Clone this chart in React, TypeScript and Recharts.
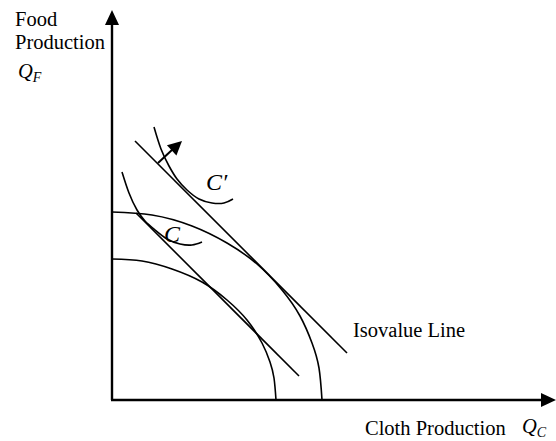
import React from 'react';
import { LineChart, Line, XAxis, YAxis, ReferenceLine, ReferenceDot } from 'recharts';

// production possibility frontiers (cloth on x, food on y)
const innerPPF = [
  { x: 0, y: 141 }, { x: 30, y: 139 }, { x: 60, y: 131 }, { x: 90, y: 118 }, { x: 115, y: 100 },
  { x: 135, y: 80 }, { x: 150, y: 57 }, { x: 158, y: 38 }, { x: 162, y: 22 }, { x: 164, y: 0 },
];
const outerPPF = [
  { x: 0, y: 188 }, { x: 40, y: 185 }, { x: 80, y: 174 }, { x: 115, y: 157 }, { x: 145, y: 136 },
  { x: 170, y: 110 }, { x: 188, y: 84 }, { x: 200, y: 57 }, { x: 207, y: 32 }, { x: 210, y: 0 },
];

// isovalue lines
const isoInner = [{ x: 24, y: 187 }, { x: 187, y: 24 }];
const isoOuter = [{ x: 23, y: 259 }, { x: 235, y: 47 }];

// indifference curves through C and C'
const curveC = [
  { x: 10, y: 228 }, { x: 17, y: 207 }, { x: 25, y: 190 }, { x: 33, y: 179 }, { x: 43, y: 170 },
  { x: 55, y: 161 }, { x: 68, y: 156 }, { x: 80, y: 155 }, { x: 90, y: 158 },
];
const curveC2 = [
  { x: 42, y: 273 }, { x: 49, y: 251 }, { x: 57, y: 234 }, { x: 65, y: 221 }, { x: 75, y: 210 },
  { x: 87, y: 201 }, { x: 100, y: 197 }, { x: 112, y: 197 }, { x: 121, y: 201 },
];

// shift arrow (tail on outer isovalue line, head to the north-east)
const shiftArrow = [{ x: 46, y: 237 }, { x: 61, y: 251 }];
const shiftTip = { x: 70, y: 259 };

const X_MAX = 444;
const Y_MAX = 390;

const serif = '"Liberation Serif", "Times New Roman", serif';

const tri = (angle: number, len: number, half: number) => (p: any) => (
  <polygon
    points={`0,0 ${-len},${-half} ${-len},${half}`}
    transform={`translate(${p.cx},${p.cy}) rotate(${angle})`}
    fill="#000"
  />
);

export default function App() {
  const curve = { stroke: '#000', strokeWidth: 1.6, dot: false, isAnimationActive: false, activeDot: false } as const;
  return (
    <div style={{ position: 'absolute', left: 0, top: 0, width: 556, height: 441, background: '#fff' }}>
      <LineChart width={556} height={441} margin={{ top: 10, right: 0, bottom: 41, left: 112 }}>
        <XAxis hide type="number" dataKey="x" domain={[0, X_MAX]} allowDataOverflow />
        <YAxis hide type="number" dataKey="y" domain={[0, Y_MAX]} allowDataOverflow />

        <ReferenceLine segment={[{ x: 0, y: 0 }, { x: 0, y: 376 }]} stroke="#000" strokeWidth={2.4} ifOverflow="visible" />
        <ReferenceLine segment={[{ x: -1, y: 0 }, { x: 431, y: 0 }]} stroke="#000" strokeWidth={2.4} ifOverflow="visible" />
        <ReferenceDot x={0} y={Y_MAX} ifOverflow="visible" shape={tri(-90, 15, 7)} />
        <ReferenceDot x={X_MAX} y={0} ifOverflow="visible" shape={tri(0, 15, 7)} />

        <Line data={innerPPF} dataKey="y" type="natural" {...curve} />
        <Line data={outerPPF} dataKey="y" type="natural" {...curve} />
        <Line data={isoInner} dataKey="y" type="linear" {...curve} />
        <Line data={isoOuter} dataKey="y" type="linear" {...curve} />
        <Line data={curveC} dataKey="y" type="natural" {...curve} />
        <Line data={curveC2} dataKey="y" type="natural" {...curve} />
        <Line data={shiftArrow} dataKey="y" type="linear" {...curve} strokeWidth={2} />
        <ReferenceDot x={shiftTip.x} y={shiftTip.y} ifOverflow="visible" shape={tri(-42.5, 14, 7)} />
      </LineChart>

      <svg width={556} height={441} style={{ position: 'absolute', left: 0, top: 0, pointerEvents: 'none' }}>
        <g fontFamily={serif} fontSize={20.5} fill="#000">
          <text x={15} y={26}>Food</text>
          <text x={15} y={49}>Production</text>
          <text x={18} y={78} fontStyle="italic">Q<tspan fontSize={14} dy={4}>F</tspan></text>
          <text x={353} y={337}>Isovalue Line</text>
          <text x={365} y={435}>Cloth Production</text>
          <text x={522} y={433} fontStyle="italic">Q<tspan fontSize={14} dy={4}>C</tspan></text>
          <text x={206} y={190} fontStyle="italic" fontSize={24}>C′</text>
          <text x={164} y={242} fontStyle="italic" fontSize={24}>C</text>
        </g>
      </svg>
    </div>
  );
}
